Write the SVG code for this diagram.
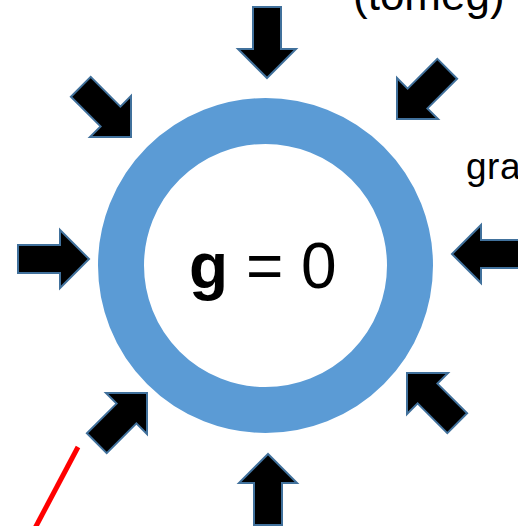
<svg xmlns="http://www.w3.org/2000/svg" width="518" height="526" viewBox="0 0 518 526">
  <style>
    .arrow { fill: #000000; stroke: #41719C; stroke-width: 2; stroke-linejoin: miter; }
    .txt { font-family: "Liberation Sans", Arial, sans-serif; fill: #000000; }
  </style>
  <defs>
    <path id="blockArrow" d="M0,0 L-29,-29 L-29,-14 L-71,-14 L-71,14 L-29,14 L-29,29 Z"/>
  </defs>
  <rect x="0" y="0" width="518" height="526" fill="#ffffff"/>

  <g id="ring">
    <circle cx="265.5" cy="265.5" r="144.5" fill="none" stroke="#5B9BD5" stroke-width="46"/>
    <text class="txt" x="189" y="288" font-size="64"><tspan font-weight="bold">g</tspan> = 0</text>
  </g>

  <g id="labels">
    <text class="txt" x="353" y="10" font-size="44">(tömeg)</text>
    <text class="txt" x="466" y="179" font-size="37" letter-spacing="0.5">gra</text>
  </g>

  <g id="arrows">
    <g id="arrow-top"><use href="#blockArrow" class="arrow" transform="translate(267,78) rotate(90)"/></g>
    <g id="arrow-top-right"><use href="#blockArrow" class="arrow" transform="translate(397,119) rotate(135)"/></g>
    <g id="arrow-right"><use href="#blockArrow" class="arrow" transform="translate(452,254) rotate(180)"/></g>
    <g id="arrow-bottom-right"><use href="#blockArrow" class="arrow" transform="translate(407,373) rotate(-135)"/></g>
    <g id="arrow-bottom"><use href="#blockArrow" class="arrow" transform="translate(268,454) rotate(-90)"/></g>
    <g id="arrow-bottom-left"><use href="#blockArrow" class="arrow" transform="translate(147,393) rotate(-45)"/></g>
    <g id="arrow-left"><use href="#blockArrow" class="arrow" transform="translate(89,259)"/></g>
    <g id="arrow-top-left"><use href="#blockArrow" class="arrow" transform="translate(131,137) rotate(45)"/></g>
  </g>

  <g id="connectors">
    <line x1="78" y1="447" x2="34" y2="530" stroke="#FF0000" stroke-width="5"/>
  </g>
</svg>
